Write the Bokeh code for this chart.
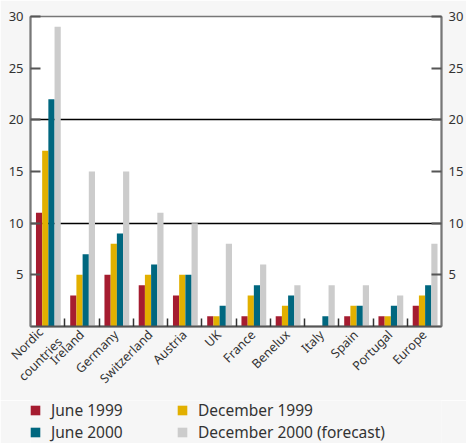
import numpy as np
from bokeh.plotting import figure
from bokeh.layouts import column
from bokeh.models import Range1d, FixedTicker, LinearAxis, Legend, LegendItem
from bokeh.embed import file_html
from bokeh.resources import INLINE

# Categories and series values
countries = ["Nordic\u00a0\u00a0\ncountries", "Ireland", "Germany", "Switzerland", "Austria", "UK",
             "France", "Benelux", "Italy", "Spain", "Portugal", "Europe"]
june_1999 = [11, 3, 5, 4, 3, 1, 1, 1, 0, 1, 1, 2]
dec_1999 = [17, 5, 8, 5, 5, 1, 3, 2, 0, 2, 1, 3]
june_2000 = [22, 7, 9, 6, 5, 2, 4, 3, 1, 2, 2, 4]
dec_2000 = [29, 15, 15, 11, 10, 8, 6, 4, 4, 4, 3, 8]
y_ticks = [5, 10, 15, 20, 25, 30]
grid_ticks = [10, 20]

series = [
    ("June 1999", june_1999, "#A51C30"),
    ("December 1999", dec_1999, "#E2B000"),
    ("June 2000", june_2000, "#00677F"),
    ("December 2000 (forecast)", dec_2000, "#CCCCCC"),
]
colors = {name: color for name, _, color in series}

FONT = "Noto Sans"
TEXT = "#333333"
AXIS = "#777777"
BG = "#F6F6F6"

n = len(countries)
centers = np.arange(n)

p = figure(width=466, height=400, x_range=Range1d(-0.5, n - 0.5), y_range=Range1d(0, 30),
           output_backend="svg", toolbar_location=None,
           min_border_left=30, min_border_right=21, min_border_top=16, min_border_bottom=74,
           background_fill_color="white", border_fill_color=BG,
           outline_line_color=AXIS, outline_line_width=1.5)

# Grouped bars
bar_w = 0.181
offsets = [-0.25, -0.069, 0.112, 0.293]
for (name, vals, color), off in zip(series, offsets):
    p.vbar(x=centers + off, top=vals, width=bar_w, bottom=0,
           fill_color=color, line_color=None)

# Horizontal reference lines
p.xgrid.visible = False
p.ygrid.ticker = FixedTicker(ticks=grid_ticks)
p.ygrid.grid_line_color = "black"
p.ygrid.grid_line_width = 1.3


def style_y(ax):
    ax.ticker = FixedTicker(ticks=y_ticks)
    ax.axis_line_color = AXIS
    ax.axis_line_width = 2
    ax.major_tick_in = 10
    ax.major_tick_out = 0
    ax.major_tick_line_color = "#555555"
    ax.major_tick_line_width = 2
    ax.minor_tick_line_color = None
    ax.major_label_standoff = 7
    ax.major_label_text_font = FONT
    ax.major_label_text_font_size = "13px"
    ax.major_label_text_color = TEXT


style_y(p.yaxis[0])
right_axis = LinearAxis()
style_y(right_axis)
p.add_layout(right_axis, "right")

# Category axis: labels at group centres, ticks at group boundaries
xa = p.xaxis[0]
xa.ticker = FixedTicker(ticks=list(centers), minor_ticks=[i + 0.5 for i in range(n - 1)])
xa.major_label_overrides = {int(i): c for i, c in zip(centers, countries)}
xa.major_tick_line_color = None
xa.minor_tick_in = 8
xa.minor_tick_out = 0
xa.minor_tick_line_color = "#333333"
xa.minor_tick_line_width = 1.5
xa.axis_line_color = "#555555"
xa.axis_line_width = 2
xa.major_label_orientation = np.pi / 4
xa.major_label_standoff = 0
xa.major_label_text_font = FONT
xa.major_label_text_font_size = "12.5px"
xa.major_label_text_color = TEXT

# Legend strip below the chart (two columns); swatches are zero-height bars
leg = figure(width=466, height=43, x_range=Range1d(0, 1), y_range=Range1d(0, 1),
             output_backend="svg", toolbar_location=None,
             x_axis_location=None, y_axis_location=None,
             min_border=0, min_border_left=0, min_border_right=0,
             min_border_top=0, min_border_bottom=0,
             background_fill_color=BG, border_fill_color=BG,
             outline_line_color=None)
leg.xgrid.visible = False
leg.ygrid.visible = False
order = ["June 1999", "June 2000", "December 1999", "December 2000 (forecast)"]
items = []
for k in order:
    r = leg.vbar(x=[0.5], top=[0], bottom=0, width=0.1, fill_color=colors[k], line_color=None)
    items.append(LegendItem(label=k, renderers=[r]))
legend = Legend(items=items, location=(-1, 0), orientation="vertical", nrows=2,
                glyph_width=12, glyph_height=12, label_standoff=10, label_width=125,
                spacing=0, padding=0, margin=0, border_line_color=None,
                background_fill_alpha=0, label_text_font=FONT,
                label_text_font_size="15.5px", label_text_color=TEXT)
leg.add_layout(legend, "center")

layout = column(p, leg, spacing=0)
open("out.html", "w").write(file_html(layout, INLINE))
